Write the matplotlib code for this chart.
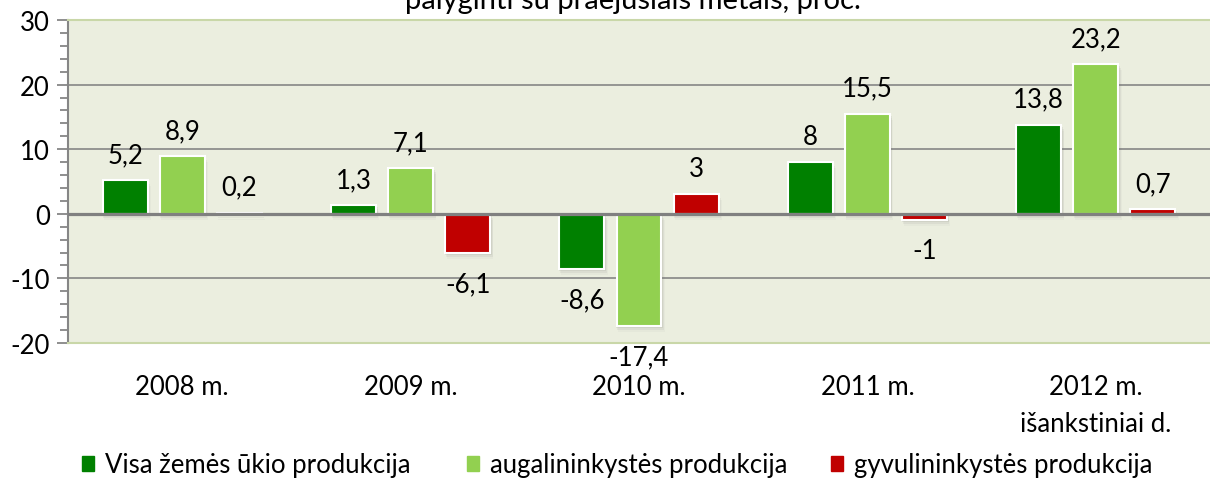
import numpy as np
import matplotlib
matplotlib.use('Agg')
import matplotlib.pyplot as plt
import matplotlib.transforms as mtransforms
from matplotlib.patches import Patch

plt.rcParams['font.family'] = ['Lato', 'DejaVu Sans']
plt.rcParams['axes.unicode_minus'] = False

years = ['2008 m.', '2009 m.', '2010 m.', '2011 m.', '2012 m.\nišankstiniai d.']
visa = [5.2, 1.3, -8.6, 8.0, 13.8]
augal = [8.9, 7.1, -17.4, 15.5, 23.2]
gyvul = [0.2, -6.1, 3.0, -1.0, 0.7]
series_names = ['Visa žemės ūkio produkcija', 'augalininkystės produkcija',
                'gyvulininkystės produkcija']
colors = ['#008000', '#92D050', '#C00000']

fig = plt.figure(figsize=(12.1, 4.81), dpi=100)
ax = fig.add_axes([68/1210, 1-344/481, 1-68/1210, (344-21)/481])
ax.set_facecolor('#EBEEDF')

x = np.arange(len(years))
w = 0.197
step = 0.25

for k, (vals, col) in enumerate(zip([visa, augal, gyvul], colors)):
    pos = x + (k-1)*step
    # soft shadow
    for off, a in [(2, 0.10), (4, 0.07), (6, 0.04)]:
        tr = mtransforms.offset_copy(ax.transData, fig=fig, x=off*0.4, y=-off, units='dots')
        ax.bar(pos, vals, width=w*1.04, color='#606060', alpha=a,
               linewidth=0, transform=tr, zorder=2)
    ax.bar(pos, vals, width=w, color=col, edgecolor='white', linewidth=1.5, zorder=3)
    for p, v in zip(pos, vals):
        lab = ('%g' % v).replace('.', ',')
        if v >= 0:
            ax.annotate(lab, (p, v), xytext=(0, 13), textcoords='offset points',
                        ha='center', va='baseline', fontsize=18.5, zorder=5)
        else:
            ax.annotate(lab, (p, v), xytext=(0, -13), textcoords='offset points',
                        ha='center', va='top', fontsize=18.5, zorder=5,
                        annotation_clip=False)

ax.set_xlim(-0.5, 4.5)
ax.set_ylim(-20, 30)
ax.set_yticks([-20, -10, 0, 10, 20, 30])
ax.set_yticks(np.arange(-20, 31, 2), minor=True)
for g in [-10, 10, 20]:
    ax.axhline(g, color='#868686', linewidth=1.2, zorder=1)
ax.axhline(0, color='#808080', linewidth=2.3, zorder=4)

ax.set_xticks(x)
ax.set_xticklabels(years, fontsize=18.5, va='top', linespacing=1.6)
ax.tick_params(axis='x', length=0, pad=22)
ax.tick_params(axis='y', which='major', length=8, width=1.3, color='#868686',
               labelsize=18.5, pad=5)
ax.tick_params(axis='y', which='minor', length=6, width=1.3, color='#868686')

for s in ['top', 'bottom']:
    ax.spines[s].set_color('#C9D7A8')
    ax.spines[s].set_linewidth(1.5)
ax.spines['right'].set_visible(False)
ax.spines['left'].set_color('#868686')
ax.spines['left'].set_linewidth(1.5)

fig.text(633/1210, 1-9/481, 'palyginti su praėjusiais metais, proc.',
         ha='center', va='baseline', fontsize=21)

leg_x = [82, 467, 831]
for name, col, lx in zip(series_names, colors, leg_x):
    lg = fig.legend(handles=[Patch(color=col)], labels=[name], loc='center left',
                    bbox_to_anchor=(lx/1210, 1-466/481), frameon=False, fontsize=18.5,
                    handlelength=0.48, handleheight=0.48, handletextpad=0.4,
                    borderaxespad=0, borderpad=0)

fig.savefig('out.png', dpi=100)
